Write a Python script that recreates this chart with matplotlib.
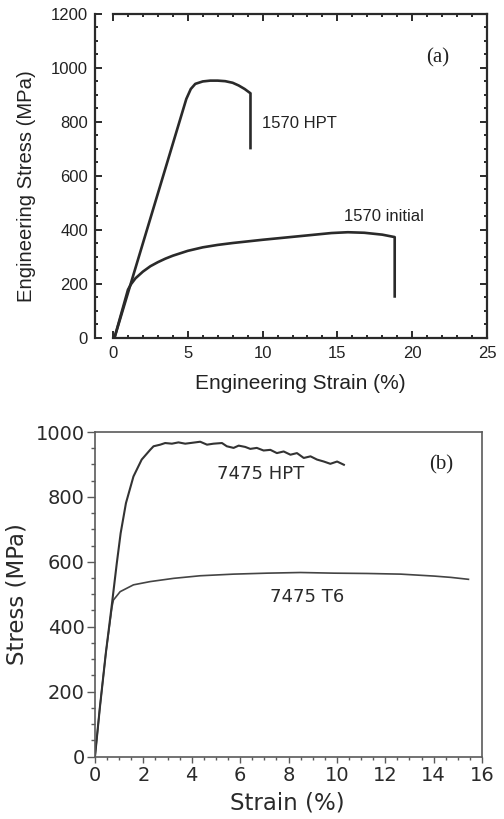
import numpy as np
import matplotlib
matplotlib.use('Agg')
import matplotlib.pyplot as plt
from matplotlib.ticker import MultipleLocator

# (a) 1570 alloy, engineering stress-strain
hpt_a_strain = [0.1, 4.9, 5.2, 5.5, 6.0, 6.5, 7.0, 7.5, 8.0, 8.4, 8.8, 9.19, 9.19]
hpt_a_stress = [0, 885, 922, 941, 950, 953, 953, 951, 945, 935, 922, 906, 703]
ini_a_strain = [0.1, 1.0, 1.2, 1.5, 2.0, 2.5, 3.0, 3.5, 4.0, 5.0, 6.0, 7.0, 8.0,
                10.0, 12.4, 14.6, 15.7, 16.8, 18.0, 18.83, 18.83]
ini_a_stress = [0, 178, 198, 220, 245, 265, 280, 293, 304, 322, 335, 344, 351,
                363, 376, 388, 391, 389, 382, 373, 153]

# (b) 7475 alloy, stress-strain
hpt_b_strain = [0, 0.08, 0.2, 0.45, 0.7, 0.9, 1.06, 1.28, 1.59, 1.93, 2.28,
                2.42, 2.70, 2.90, 3.18, 3.45, 3.73, 3.94, 4.35, 4.63, 4.90,
                5.25, 5.45, 5.73, 5.94, 6.21, 6.42, 6.69, 6.97, 7.25, 7.52,
                7.80, 8.08, 8.35, 8.63, 8.91, 9.18, 9.46, 9.73, 10.01, 10.29]
hpt_b_stress = [0, 60, 150, 320, 470, 595, 688, 781, 863, 915, 945,
                956, 961, 966, 964, 968, 964, 966, 970, 961, 964,
                966, 956, 951, 958, 954, 948, 951, 943, 945, 935,
                940, 930, 935, 920, 925, 915, 909, 902, 909, 899]
t6_b_strain = [0, 0.08, 0.2, 0.45, 0.7, 0.76, 1.04, 1.59, 2.28, 3.25, 4.35,
               5.73, 7.11, 8.49, 9.88, 11.26, 12.64, 14.02, 14.71, 15.44]
t6_b_stress = [0, 60, 150, 320, 460, 482, 508, 529, 539, 549, 557,
               562, 565, 567, 565, 564, 562, 556, 552, 546]

fig = plt.figure(figsize=(5.04, 8.19), dpi=100)

# ---- panel (a) ----
dark = '#2a2a2a'
axa = fig.add_axes([113/504, 1-337.7/819, 374/504, 323.7/819])
axa.plot(hpt_a_strain, hpt_a_stress, color=dark, lw=1.9, solid_joinstyle='round')
axa.plot(ini_a_strain, ini_a_stress, color=dark, lw=1.9, solid_joinstyle='round')
axa.set_xlim(0, 25)
axa.set_ylim(0, 1200)
axa.xaxis.set_major_locator(MultipleLocator(5))
axa.xaxis.set_minor_locator(MultipleLocator(1))
axa.yaxis.set_major_locator(MultipleLocator(200))
axa.yaxis.set_minor_locator(MultipleLocator(50))
for s in axa.spines.values():
    s.set_linewidth(1.6)
    s.set_color(dark)
axa.spines['left'].set_position(('outward', 13))
axa.tick_params(which='both', direction='in', top=True, right=True,
                color=dark, width=1.4, labelsize=12, labelcolor='#222')
axa.tick_params(which='major', length=5)
axa.tick_params(which='minor', length=2.5)
axa.tick_params(axis='x', pad=6)
axa.tick_params(axis='y', pad=5)
for lab in axa.get_xticklabels() + axa.get_yticklabels():
    lab.set_family('Liberation Sans')
axa.set_xlabel('Engineering Strain (%)', fontsize=15, family='Liberation Sans',
               color='#222', ha='center', va='center')
axa.set_ylabel('Engineering Stress (MPa)', fontsize=14.6, family='Liberation Sans',
               color='#222', ha='center', va='center')
axa.xaxis.set_label_coords(0.5, -0.14)
axa.yaxis.set_label_coords(-0.23, 0.469)
axa.text(9.95, 795, '1570 HPT', fontsize=12, family='Liberation Sans', color='#222',
         ha='left', va='center')
axa.text(15.42, 451, '1570 initial', fontsize=12, family='Liberation Sans', color='#222',
         ha='left', va='center')
axa.text(21.7, 1036, '(a)', fontsize=15, family='Liberation Serif', color='#222',
         ha='center', va='center')

# ---- panel (b) ----
grey = '#5a5a5a'
axb = fig.add_axes([95/504, 1-756.5/819, 387/504, 324.5/819])
axb.plot(t6_b_strain, t6_b_stress, color='#444444', lw=1.2)
axb.plot(hpt_b_strain, hpt_b_stress, color='#333333', lw=1.5)
axb.set_xlim(0, 16)
axb.set_ylim(0, 1000)
axb.xaxis.set_major_locator(MultipleLocator(2))
axb.xaxis.set_minor_locator(MultipleLocator(0.5))
axb.yaxis.set_major_locator(MultipleLocator(200))
axb.yaxis.set_minor_locator(MultipleLocator(50))
for s in axb.spines.values():
    s.set_linewidth(1.2)
    s.set_color(grey)
axb.tick_params(which='both', direction='out', color=grey, width=1.0,
                labelsize=14, labelcolor='#2a2a2a')
axb.tick_params(axis='y', which='major', length=5.5, pad=2)
axb.tick_params(axis='y', which='minor', length=3)
axb.tick_params(axis='x', which='major', length=4.5, pad=2)
axb.tick_params(axis='x', which='minor', length=2.5)
axb.set_xlabel('Strain (%)', fontsize=16.5, color='#2a2a2a', ha='center', va='center')
axb.set_ylabel('Stress (MPa)', fontsize=16.5, color='#2a2a2a', ha='center', va='center')
axb.xaxis.set_label_coords(0.496, -0.143)
axb.yaxis.set_label_coords(-0.2016, 0.5)
axb.text(5.06, 870, '7475 HPT', fontsize=13, color='#2a2a2a', ha='left', va='center')
axb.text(7.25, 492, '7475 T6', fontsize=13, color='#2a2a2a', ha='left', va='center')
axb.text(14.3, 898, '(b)', fontsize=15, family='Liberation Serif', color='#222',
         ha='center', va='center')

fig.savefig('out.png', dpi=100)
